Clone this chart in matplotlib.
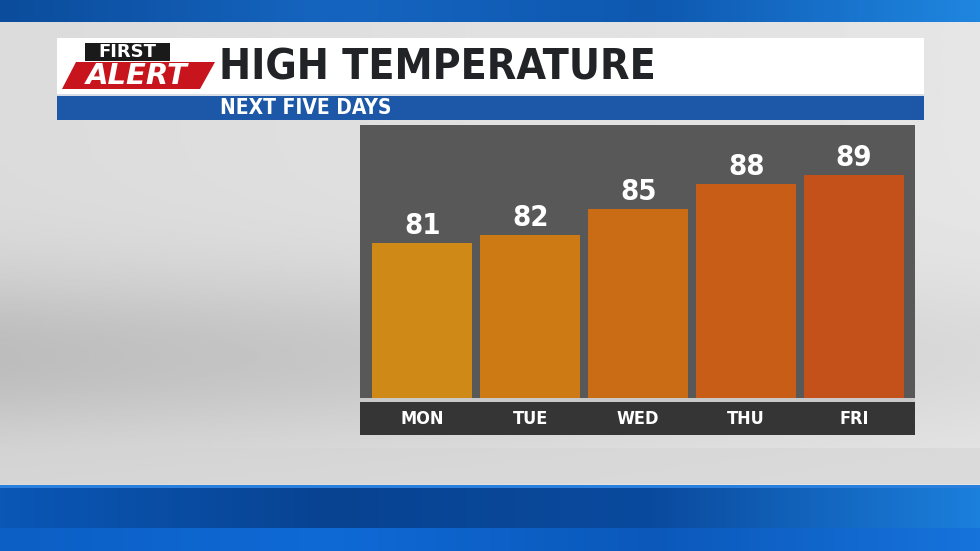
import numpy as np
import matplotlib
matplotlib.use("Agg")
import matplotlib.pyplot as plt
from matplotlib.patches import Rectangle, Polygon
from matplotlib.colors import LinearSegmentedColormap

# ---- data ----
days = ["MON", "TUE", "WED", "THU", "FRI"]
highs = [81, 82, 85, 88, 89]
bar_colors = ["#cf8916", "#cd7a14", "#ca6c16", "#c75d17", "#c4511a"]
title = "HIGH TEMPERATURE"
subtitle = "NEXT FIVE DAYS"

W, H = 980, 551
fig = plt.figure(figsize=(W / 100, H / 100), dpi=100)

FONT = "DejaVu Sans"

def px_axes(x0, y0, x1, y1, **kw):
    return fig.add_axes([x0 / W, 1 - y1 / H, (x1 - x0) / W, (y1 - y0) / H], **kw)

# ---- background (pixel coordinates) ----
bg = fig.add_axes([0, 0, 1, 1])
bg.set_xlim(0, W)
bg.set_ylim(H, 0)
bg.axis("off")

gy = np.linspace(0, 1, 200)[:, None]
gx = np.linspace(0, 1, 300)[None, :]
shade = 0.86 - 0.12 * np.exp(-((gy - 0.72) / 0.18) ** 2) * (1 - 0.6 * gx) + 0.04 * gx
gray_cmap = LinearSegmentedColormap.from_list("g", ["#000000", "#ffffff"])
bg.imshow(shade, extent=(0, W, 487, 22), cmap=gray_cmap, vmin=0, vmax=1,
          aspect="auto", zorder=0, interpolation="bilinear")
bg.add_patch(Rectangle((0, 448), W, 36, color="#d4d4d4", alpha=0.55, zorder=1, lw=0))

# top blue strip
blue_cmap = LinearSegmentedColormap.from_list("b", ["#0b4c9c", "#1565c0", "#0e58b0", "#1f86e0"])
bg.imshow(np.linspace(0, 1, 200)[None, :], extent=(0, W, 22, 0), cmap=blue_cmap,
          aspect="auto", zorder=1)
# bottom blue strips
bg.imshow(np.linspace(0, 1, 200)[None, :], extent=(0, W, 528, 487),
          cmap=LinearSegmentedColormap.from_list("b2", ["#0a57b6", "#084392", "#0a4a9e", "#1b7fdc"]),
          aspect="auto", zorder=1)
bg.imshow(np.linspace(0, 1, 200)[None, :], extent=(0, W, H, 528),
          cmap=LinearSegmentedColormap.from_list("b3", ["#0c5fc4", "#0f6ad6", "#0b58ba", "#1673dc"]),
          aspect="auto", zorder=1)
bg.add_patch(Rectangle((0, 485), W, 3, color="#2a7fdc", zorder=2, lw=0))

# header white box + blue subtitle bar
bg.add_patch(Rectangle((57, 38), 867, 57, color="#ffffff", zorder=3, lw=0))
bg.add_patch(Rectangle((57, 95), 867, 25, color="#1c57a8", zorder=3, lw=0))
bg.add_patch(Rectangle((57, 94), 867, 1.5, color="#d8dde6", zorder=4, lw=0))
bg.text(219, 67, title, color="#222326", fontsize=30.7, fontweight="bold",
        family=FONT, fontstretch="condensed", va="center", ha="left", zorder=5)
bg.text(220, 108, subtitle, color="#ffffff", fontsize=15, fontweight="bold",
        family=FONT, fontstretch="condensed", va="center", ha="left", zorder=5)

# logo
bg.add_patch(Rectangle((85, 43), 85, 18, color="#1a1a1a", zorder=5, lw=0))
bg.text(127, 52, "FIRST", color="#ffffff", fontsize=13, fontweight="bold",
        family=FONT, va="center", ha="center", zorder=6)
bg.add_patch(Polygon([(76, 62), (215, 62), (200, 89), (62, 89)], closed=True,
                     color="#c8141c", zorder=5, lw=0))
bg.text(137, 76, "ALERT", color="#ffffff", fontsize=21, fontweight="bold",
        style="italic", family=FONT, va="center", ha="center", zorder=6)

# ---- chart ----
x0, x1 = 360, 915
ax = px_axes(x0, 125, x1, 398)
ax.set_facecolor("#585858")
xs = np.arange(len(days))
spacing = 108.0
ax.set_xlim(-62.5 / spacing, 4 + 61 / spacing)
ax.set_ylim(62.8, 94.9)
bars = ax.bar(xs, highs, width=100 / spacing, color=bar_colors, bottom=0, zorder=2)
for b, v in zip(bars, highs):
    ax.annotate(str(v), (b.get_x() + b.get_width() / 2, v), xytext=(0, 2),
                textcoords="offset points", ha="center", va="bottom",
                color="#ffffff", fontsize=21, fontweight="bold", family=FONT,
                fontstretch="condensed", zorder=3)
ax.set_xticks([])
ax.set_yticks([])
for s in ax.spines.values():
    s.set_visible(False)

# separator line and day band
sep = px_axes(x0, 398, x1, 402)
sep.set_facecolor("#c9c9c9")
sep.set_xticks([]); sep.set_yticks([])
for s in sep.spines.values():
    s.set_visible(False)

band = px_axes(x0, 402, x1, 435)
band.set_facecolor("#353535")
band.set_xlim(ax.get_xlim())
band.set_ylim(0, 1)
band.set_xticks([]); band.set_yticks([])
for s in band.spines.values():
    s.set_visible(False)
for i, d in enumerate(days):
    band.text(xs[i], 0.48, d, ha="center", va="center", color="#ffffff",
              fontsize=13, fontweight="bold" if d == "FRI" else "semibold",
              family=FONT, fontstretch="condensed")

fig.savefig("out.png", dpi=100)
